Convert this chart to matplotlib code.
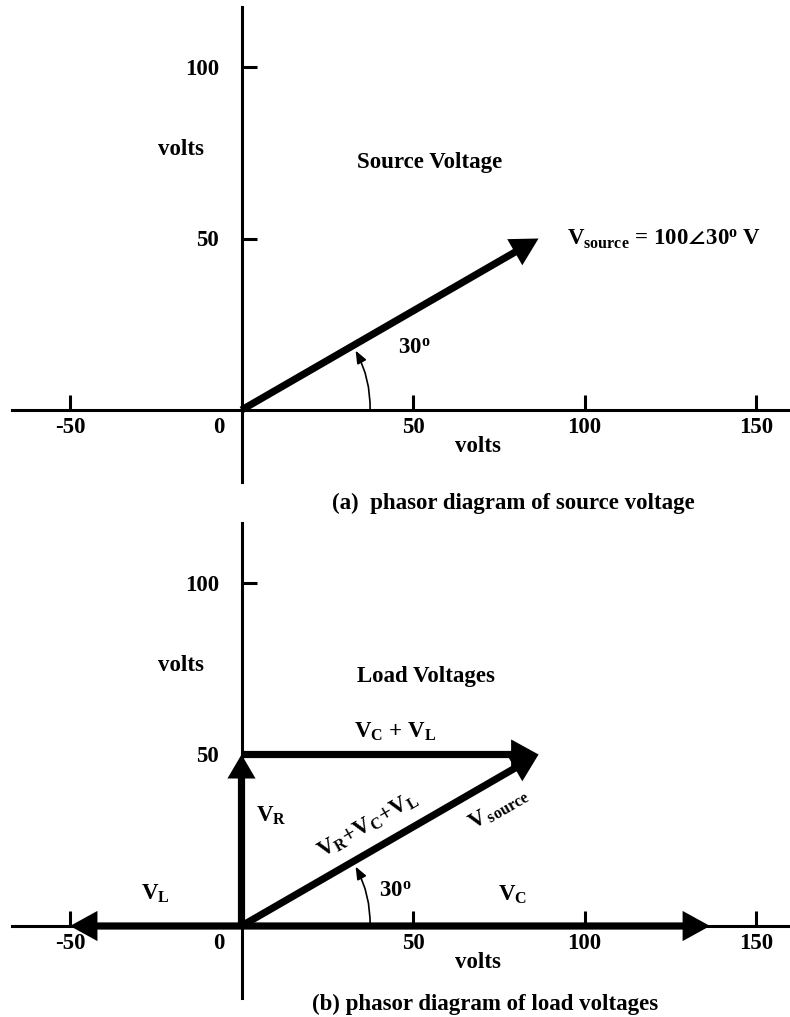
import matplotlib
matplotlib.use('Agg')
from matplotlib import pyplot as plt

plt.rcParams['font.family'] = 'Liberation Serif'
plt.rcParams['font.weight'] = 'bold'
plt.rcParams['mathtext.fontset'] = 'custom'
plt.rcParams['mathtext.rm'] = 'Liberation Serif:bold'
plt.rcParams['mathtext.it'] = 'Liberation Serif:bold'
plt.rcParams['mathtext.bf'] = 'Liberation Serif:bold'
plt.rcParams['mathtext.default'] = 'rm'
plt.rcParams['axes.unicode_minus'] = False

# data (volts)
x_ticks = [-50, 50, 100, 150]
y_ticks = [50, 100]
v_source = (86.6, 50.0)      # 100 /_ 30 deg
v_r = (0.0, 50.0)
v_c = (136.6, 0.0)
v_l = (-50.0, 0.0)
angle_deg = 30
arc_radius = 37.5

PX = 3.43  # pixels per volt
W, H = 790, 1017
FS = 16.5


def make_axes(top_px, bottom_px, origin_px):
    # place axes so that 1 volt = PX pixels in both directions
    ax = plt.gcf().add_axes([0, 1 - bottom_px / H, 1, (bottom_px - top_px) / H])
    ax.set_xlim(-241.5 / PX, (W - 241.5) / PX)
    ax.set_ylim(-(bottom_px - origin_px) / PX, (origin_px - top_px) / PX)
    ax.patch.set_visible(False)
    for s in ['top', 'right']:
        ax.spines[s].set_visible(False)
    ax.spines['bottom'].set_position(('data', 0))
    ax.spines['left'].set_position(('data', 0))
    ax.spines['bottom'].set_bounds(-67, 160)
    ax.spines['left'].set_bounds(-21, 117.5)
    for s in ['bottom', 'left']:
        ax.spines[s].set_linewidth(2.2)
    ax.set_xticks(x_ticks)
    ax.set_yticks(y_ticks)
    ax.tick_params(axis='x', direction='in', length=11, width=2.2, pad=5, labelsize=FS)
    ax.tick_params(axis='y', direction='in', length=11, width=2.2, pad=16, labelsize=FS)
    ax.text(-6.7, -2.0, '0', ha='center', va='top', fontsize=FS)
    ax.text(68.8, -10.6, 'volts', ha='center', va='center', fontsize=FS)
    ax.text(-17.8, 76, 'volts', ha='center', va='center', fontsize=FS)
    return ax


def phasor(ax, start, end, hl=8.0, hw=8.8):
    ax.arrow(start[0], start[1], end[0] - start[0], end[1] - start[1],
             width=2.1, head_width=hw, head_length=hl, length_includes_head=True,
             fc='k', ec='k', lw=0, zorder=5)


def angle_arc(ax):
    import math
    a = math.radians(angle_deg - 2.5)
    ax.annotate('', xy=(arc_radius * math.cos(a), arc_radius * math.sin(a)),
                xytext=(arc_radius, 0),
                arrowprops=dict(arrowstyle='-|>,head_length=0.75,head_width=0.3',
                                connectionstyle='arc3,rad=0.13', lw=1.2, color='k',
                                shrinkA=0, shrinkB=0, mutation_scale=10))


fig = plt.figure(figsize=(W / 100, H / 100), dpi=100)

# (a) source voltage
ax1 = make_axes(0, 516, 410)
phasor(ax1, (0, 0), v_source)
angle_arc(ax1)
ax1.text(45.5, 18, r'30$^{\rm o}$', ha='left', va='center', fontsize=FS)
ax1.text(54.8, 72.3, 'Source Voltage', ha='center', va='center', fontsize=FS)
ax1.text(94.8, 49.7, r'V$_{\rm source}$ = 100$\angle$30$^{\rm o}$ V',
         ha='left', va='center', fontsize=FS)
ax1.text(79.3, -27.1, '(a)  phasor diagram of source voltage',
         ha='center', va='center', fontsize=FS)

# (b) load voltages
ax2 = make_axes(516, H, 926)
phasor(ax2, (0, 0), v_c)
phasor(ax2, (0, 0), v_l)
phasor(ax2, (0, 0), v_r, hl=7.0, hw=8.2)
phasor(ax2, v_r, (v_c[0] + v_l[0], v_r[1]))
phasor(ax2, (0, 0), v_source)
angle_arc(ax2)
ax2.text(40, 10.2, r'30$^{\rm o}$', ha='left', va='center', fontsize=FS)
ax2.text(53.9, 72.6, 'Load Voltages', ha='center', va='center', fontsize=FS)
ax2.text(44.9, 56.5, r'V$_{\rm C}$ + V$_{\rm L}$', ha='center', va='center', fontsize=FS)
ax2.text(4.2, 32.0, r'V$_{\rm R}$', ha='left', va='center', fontsize=FS)
ax2.text(-25, 9.3, r'V$_{\rm L}$', ha='center', va='center', fontsize=FS)
ax2.text(79, 9.0, r'V$_{\rm C}$', ha='center', va='center', fontsize=FS)
ax2.text(36.8, 29.4, r'V$_{\rm R}$+V$_{\rm C}$+V$_{\rm L}$', rotation=30,
         rotation_mode='anchor', ha='center', va='center', fontsize=FS)
ax2.text(74.9, 34.1, r'V$_{\,\rm source}$', rotation=30,
         rotation_mode='anchor', ha='center', va='center', fontsize=FS)
ax2.text(71.1, -23.0, '(b) phasor diagram of load voltages',
         ha='center', va='center', fontsize=FS)

fig.savefig('out.png', dpi=100)
